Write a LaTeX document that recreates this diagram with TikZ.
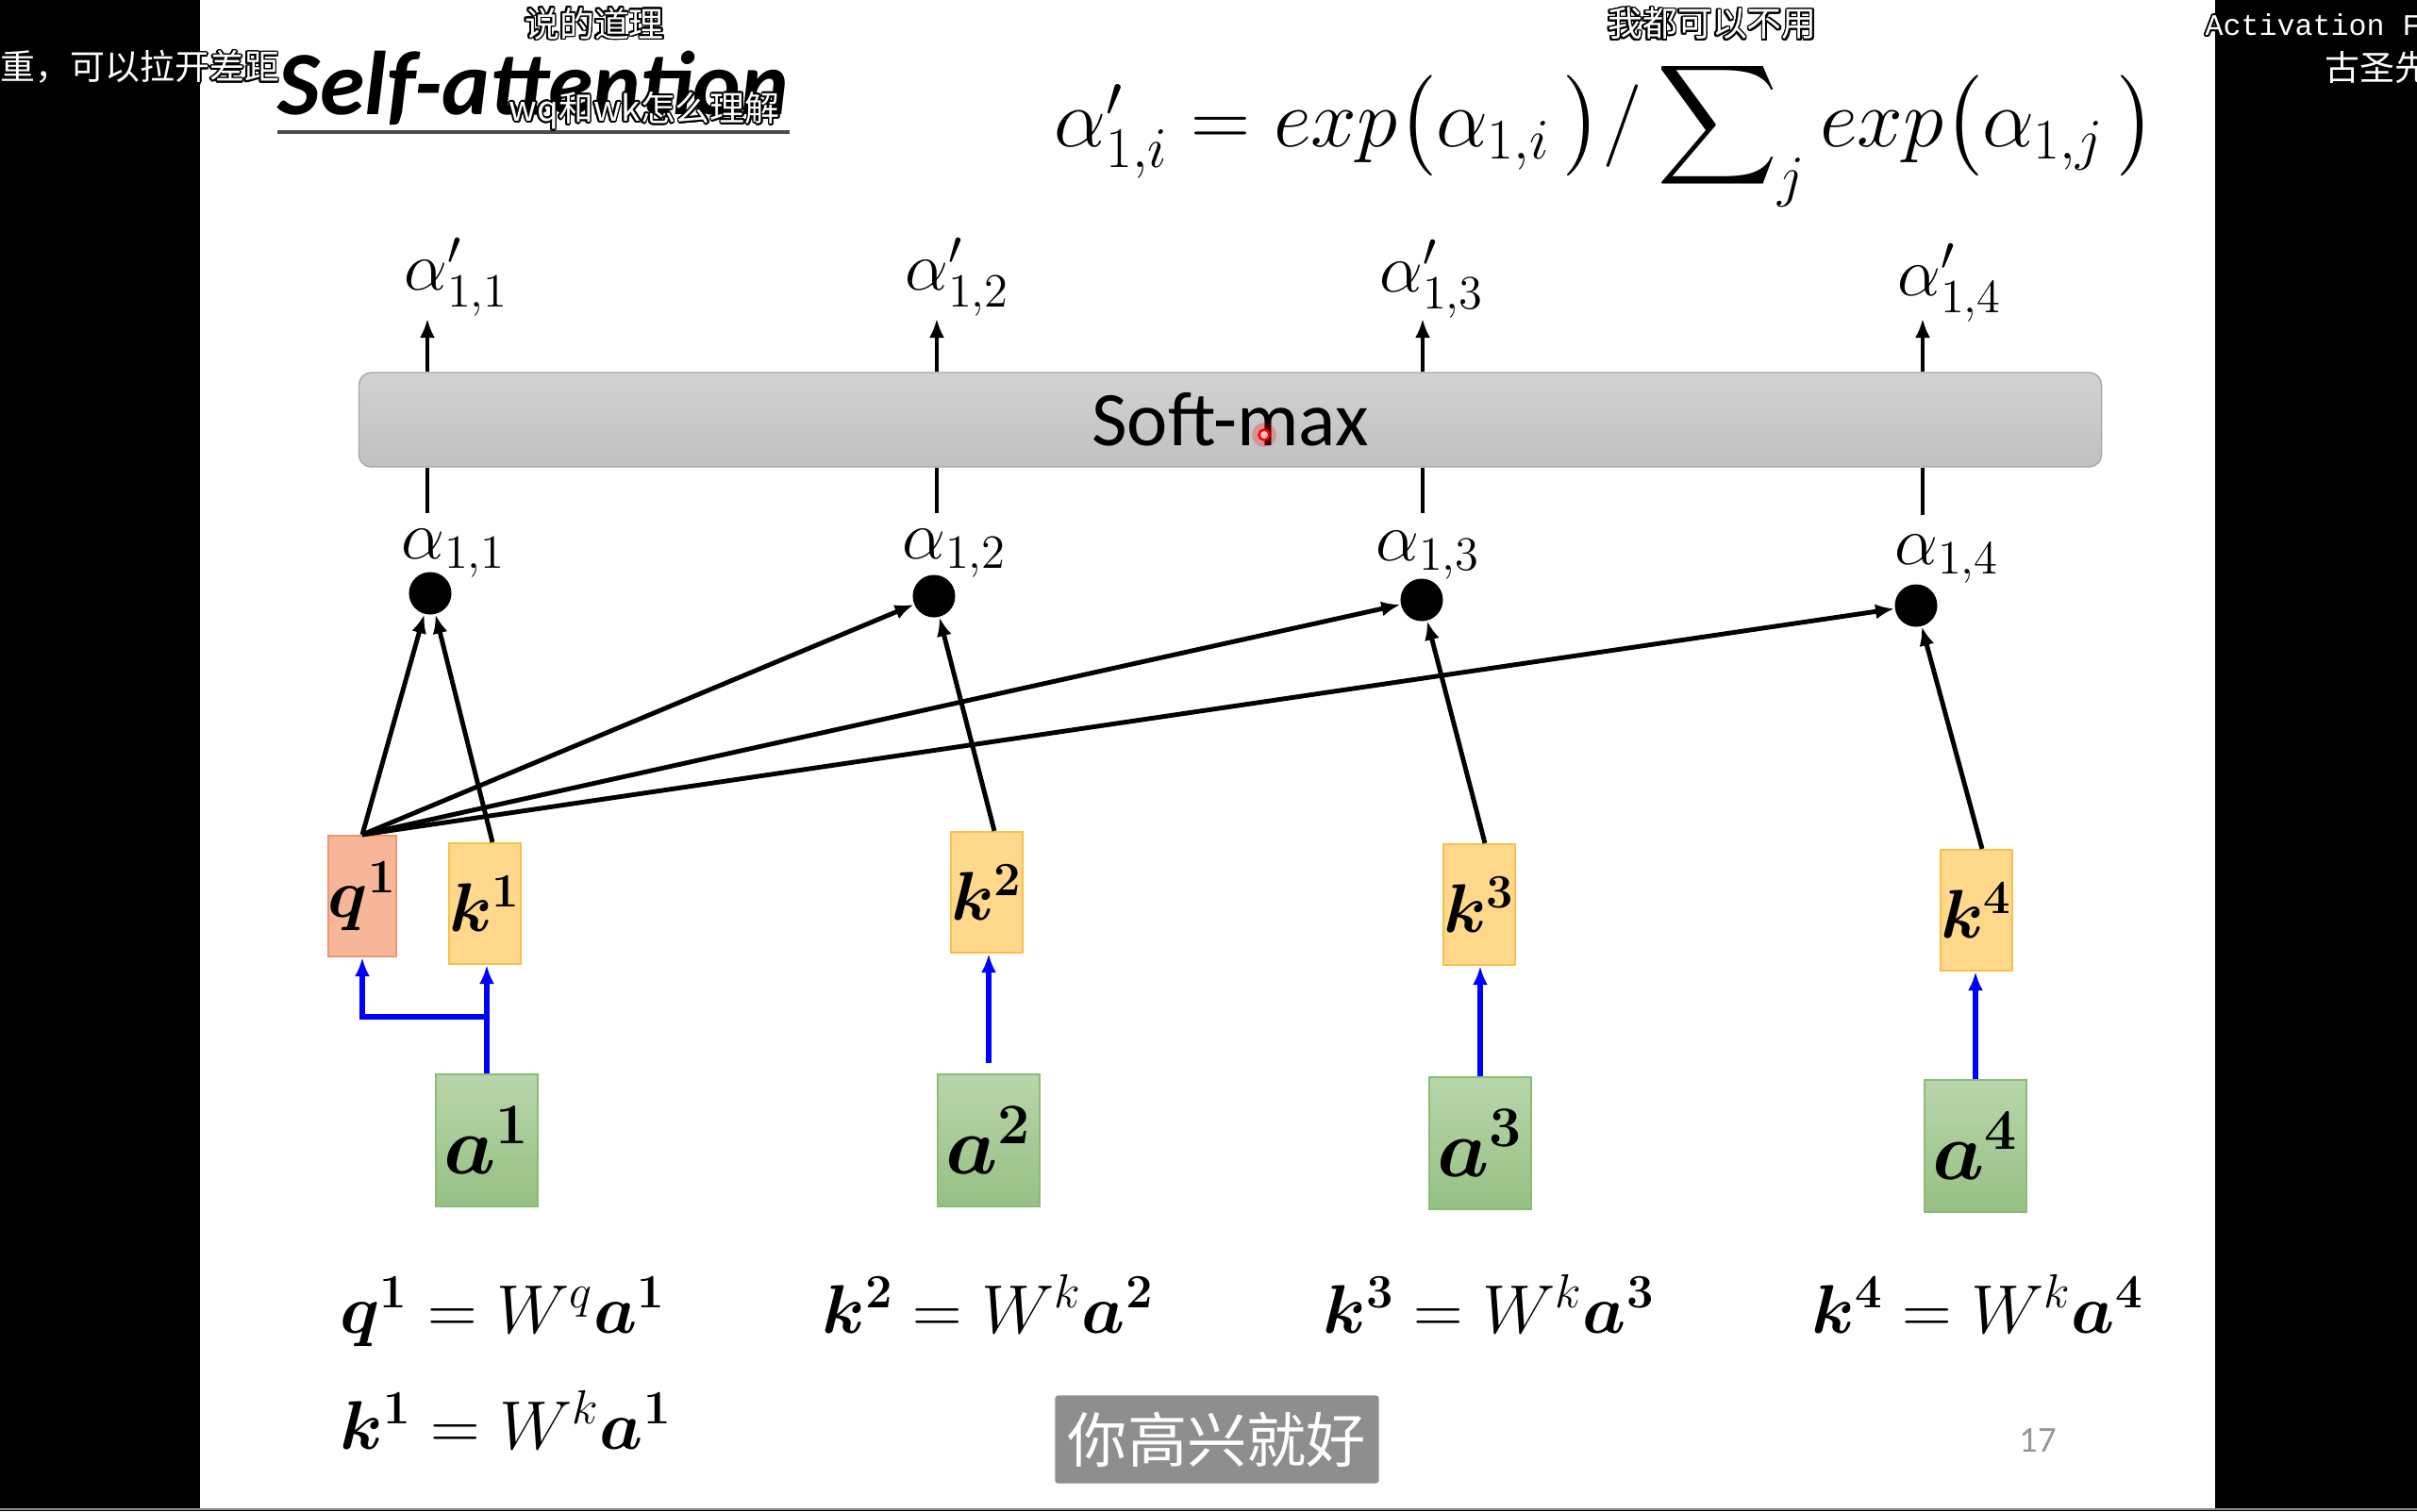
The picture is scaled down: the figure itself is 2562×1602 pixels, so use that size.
\documentclass[tikz,border=0pt]{standalone}
\usepackage{amsmath,amssymb,bm}
\usepackage[no-math]{fontspec}
\usepackage[copies]{contour}
\usetikzlibrary{positioning,arrows.meta}
\newfontfamily\calibri{Carlito}
\newfontfamily\cjk{Noto Sans CJK SC}
\newfontfamily\mono{Liberation Mono}
\definecolor{qfill}{RGB}{247,182,152}
\definecolor{qline}{RGB}{238,150,112}
\definecolor{kfill}{RGB}{255,216,140}
\definecolor{kline}{RGB}{246,192,74}
\definecolor{atop}{RGB}{184,214,170}
\definecolor{abot}{RGB}{150,192,131}
\definecolor{aline}{RGB}{140,186,120}
\definecolor{smtop}{RGB}{210,210,210}
\definecolor{smbot}{RGB}{192,192,192}
\definecolor{smline}{RGB}{168,168,168}
\definecolor{subgray}{RGB}{142,142,142}
\definecolor{pagegray}{RGB}{150,150,150}
\contourlength{0.5pt}

\begin{document}
\begin{tikzpicture}[x=0.01cm, y=-0.01cm,
      kbox/.style={draw=kline, fill=kfill, line width=0.6pt, minimum width=0.68cm,
                   minimum height=1.28cm, inner sep=0pt, font=\fontsize{22}{25}\selectfont},
      qbox/.style={kbox, draw=qline, fill=qfill},
      abox/.style={draw=aline, top color=atop, bottom color=abot, line width=0.6pt,
                   minimum width=1.08cm, minimum height=1.4cm, inner sep=0pt,
                   font=\fontsize{23}{27}\selectfont},
      scoredot/.style={circle, fill=black, inner sep=0pt, minimum size=0.45cm},
      alab/.style={anchor=base west, inner sep=0pt, font=\fontsize{21}{24}\selectfont},
      eqn/.style={anchor=base west, inner sep=0pt, font=\fontsize{22}{26}\selectfont},
      subtitle/.style={inner sep=0pt, text=white, font=\cjk\fontsize{10.5}{12}\selectfont},
      attn/.style={->, line width=1.4pt},
      proj/.style={->, blue, line width=1.7pt},
      smline/.style={line width=1pt},
      >={Latex[length=0.2cm, width=0.16cm]}]
    \useasboundingbox (0,0) rectangle (2562,1602);
    \fill[black] (0,0) rectangle (2562,1602);
    \fill[white] (212,0) rectangle (2348,1599);
    \draw[black!45, line width=0.6pt] (0,1600) -- (2562,1600);

    \node[anchor=base west, inner sep=0pt, font=\calibri\bfseries\itshape\fontsize{27.3}{32}\selectfont]
          (title) at (294,121) {Self-attention};
    \draw[black!70, line width=0.9pt] ([yshift=-0.19cm]title.base west) -- ([yshift=-0.19cm]title.base east);
    \node[anchor=base west, inner sep=0pt, font=\fontsize{25.3}{30}\selectfont] (rule) at (1117,155)
          {$\alpha'_{1,i} = exp\bigl(\alpha_{1,i}\,\bigr)/\displaystyle\sum\nolimits_j exp\bigl(\alpha_{1,j}\,\bigr)$};

    \node[draw=smline, top color=smtop, bottom color=smbot, rounded corners=0.13cm,
          minimum width=18.46cm, minimum height=1.0cm,
          font=\calibri\fontsize{23.3}{28}\selectfont] (sm) at (1304,445) {Soft-max};

    \node[alab] (p1) at (428,307)  {$\alpha'_{1,1}$};
    \node[alab] (p2) at (959,307)  {$\alpha'_{1,2}$};
    \node[alab] (p3) at (1462,309) {$\alpha'_{1,3}$};
    \node[alab] (p4) at (2011,313) {$\alpha'_{1,4}$};
    \coordinate (t1) at (453,338);
    \coordinate (t2) at (993,338);
    \coordinate (t3) at (1508,338);
    \coordinate (t4) at (2038,338);
    \draw[->, smline] (t1 |- sm.north) -- (t1);
    \draw[->, smline] (t2 |- sm.north) -- (t2);
    \draw[->, smline] (t3 |- sm.north) -- (t3);
    \draw[->, smline] (t4 |- sm.north) -- (t4);
    \coordinate (b1) at (453,544);
    \coordinate (b2) at (993,544);
    \coordinate (b3) at (1508,544);
    \coordinate (b4) at (2038,546);
    \draw[smline] (b1 |- sm.south) -- (b1);
    \draw[smline] (b2 |- sm.south) -- (b2);
    \draw[smline] (b3 |- sm.south) -- (b3);
    \draw[smline] (b4 |- sm.south) -- (b4);

    \node[alab] (s1) at (425,592)  {$\alpha_{1,1}$};
    \node[alab] (s2) at (956,592)  {$\alpha_{1,2}$};
    \node[alab] (s3) at (1458,594) {$\alpha_{1,3}$};
    \node[alab] (s4) at (2008,598) {$\alpha_{1,4}$};
    \node[scoredot] (d1) at (456,629)  {};
    \node[scoredot] (d2) at (990,632)  {};
    \node[scoredot] (d3) at (1507,636) {};
    \node[scoredot] (d4) at (2031,642) {};

    \node[qbox] (q1) at (384,950)  {$\boldsymbol{q}^{\boldsymbol{1}}$};
    \node[kbox] (k1) at (514,958)  {$\boldsymbol{k}^{\boldsymbol{1}}$};
    \node[kbox] (k2) at (1046,946) {$\boldsymbol{k}^{\boldsymbol{2}}$};
    \node[kbox] (k3) at (1568,959) {$\boldsymbol{k}^{\boldsymbol{3}}$};
    \node[kbox] (k4) at (2095,965) {$\boldsymbol{k}^{\boldsymbol{4}}$};
    \node[abox] (a1) at (516,1209)  {$\boldsymbol{a}^{\boldsymbol{1}}$};
    \node[abox] (a2) at (1048,1209) {$\boldsymbol{a}^{\boldsymbol{2}}$};
    \node[abox] (a3) at (1569,1212) {$\boldsymbol{a}^{\boldsymbol{3}}$};
    \node[abox] (a4) at (2094,1215) {$\boldsymbol{a}^{\boldsymbol{4}}$};

    \draw[attn] (q1.north) -- (d1);
    \draw[attn] (q1.north) -- (d2);
    \draw[attn] (q1.north) -- (d3);
    \draw[attn] (q1.north) -- (d4);
    \draw[attn] ([xshift=0.08cm]k1.north) -- (d1);
    \draw[attn] ([xshift=0.08cm]k2.north) -- (d2);
    \draw[attn] ([xshift=0.06cm]k3.north) -- (d3);
    \draw[attn] ([xshift=0.06cm]k4.north) -- (d4);

    \coordinate (br) at (516,1078);
    \draw[proj] (a1.north) -- (a1.north |- k1.south);
    \draw[proj] (br) -| (q1.south);
    \draw[proj, shorten <=0.11cm] (a2.north) -- (a2.north |- k2.south);
    \draw[proj] (a3.north) -- (a3.north |- k3.south);
    \draw[proj] (a4.north) -- (a4.north |- k4.south);

    \node[eqn] (e1) at (360,1413)  {$\boldsymbol{q}^{\boldsymbol{1}} = W^{q}\boldsymbol{a}^{\boldsymbol{1}}$};
    \node[eqn] (e2) at (871,1413)  {$\boldsymbol{k}^{\boldsymbol{2}} = W^{k}\boldsymbol{a}^{\boldsymbol{2}}$};
    \node[eqn] (e3) at (1402,1413) {$\boldsymbol{k}^{\boldsymbol{3}} = W^{k}\boldsymbol{a}^{\boldsymbol{3}}$};
    \node[eqn] (e4) at (1920,1413) {$\boldsymbol{k}^{\boldsymbol{4}} = W^{k}\boldsymbol{a}^{\boldsymbol{4}}$};
    \node[eqn] (e5) at (360,1536)  {$\boldsymbol{k}^{\boldsymbol{1}} = W^{k}\boldsymbol{a}^{\boldsymbol{1}}$};

    \node[text=pagegray, font=\calibri\fontsize{11}{12}\selectfont] (page) at (2160,1527) {17};
    \fill[red, opacity=0.25] (1340,461) circle (0.13cm);
    \draw[red, line width=0.7pt, fill=red!25] (1340,461) circle (0.055cm);

    \node[subtitle, anchor=west] (c1) at (0,72)    {\contour{black}{重，可以拉开差距}};
    \node[subtitle]              (c2) at (630,26)  {\contour{black}{说的道理}};
    \node[subtitle, anchor=west] (c3) at (539,118) {\contour{black}{wq和wk怎么理解}};
    \node[subtitle]              (c4) at (1815,26) {\contour{black}{我都可以不用}};
    \node[subtitle, anchor=west, font=\mono\fontsize{9}{11}\selectfont]
                                 (c5) at (2337,27) {\contour{black}{Activation F}};
    \node[subtitle, anchor=west] (c6) at (2464,72) {\contour{black}{古圣先}};
    \node[fill=subgray, rounded corners=0.03cm, minimum width=3.43cm, minimum height=0.93cm,
          text=white, font=\cjk\fontsize{18}{20}\selectfont] (c7) at (1290,1526) {你高兴就好};
  \end{tikzpicture}
\end{document}
